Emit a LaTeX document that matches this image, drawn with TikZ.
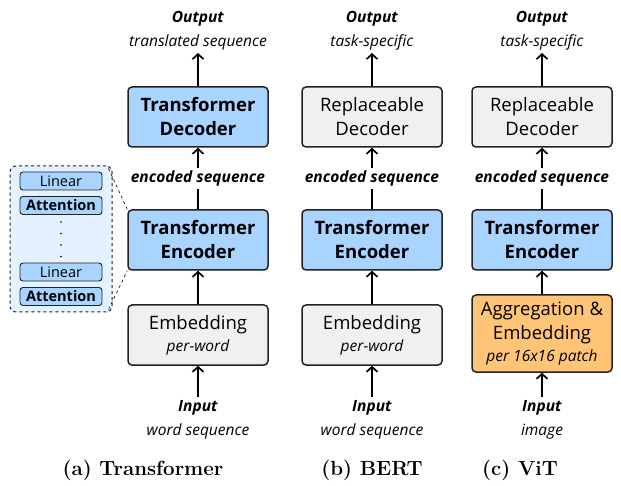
\documentclass[tikz,border=0pt]{standalone}
\usepackage{fontspec}
\usetikzlibrary{arrows.meta}
\newfontfamily\notosans{Open Sans}
\definecolor{encblue}{HTML}{A8D4FF}
\definecolor{stackblue}{HTML}{E4F1FF}
\definecolor{embgray}{HTML}{F0F0F0}
\definecolor{aggorange}{HTML}{FFC475}
\definecolor{edge}{HTML}{222222}

\begin{document}
\begin{tikzpicture}[x=1pt, y=1pt,
    block/.style={draw=edge, line width=1.5pt, rounded corners=4pt, minimum width=140pt, minimum height=60pt, align=center, inner sep=2pt, font=\notosans\fontsize{18.5}{24}\selectfont},
    blueblock/.style={block, fill=encblue, font=\notosans\bfseries\fontsize{18.5}{24}\selectfont},
    grayblock/.style={block, fill=embgray},
    lbl/.style={align=center, inner sep=3pt, font=\notosans\fontsize{15.5}{24}\selectfont},
    midlbl/.style={fill=white, inner sep=3pt, font=\notosans\bfseries\itshape\fontsize{15.5}{18}\selectfont},
    layer/.style={draw=edge, line width=0.9pt, fill=encblue, rounded corners=3pt, minimum width=82pt, minimum height=18pt, inner sep=0pt, font=\notosans\fontsize{14.5}{15}\selectfont},
    flow/.style={-{Straight Barb[length=5pt,width=11pt]}, line width=1.7pt},
    caption/.style={font=\bfseries\fontsize{20.5}{24}\selectfont}]
    \useasboundingbox (0,0) rectangle (621,485);

    % (a) Transformer
    \node[blueblock] (decA) at (198,368) {Transformer\\Decoder};
    \node[blueblock] (encA) at (198,245) {Transformer\\Encoder};
    \node[grayblock] (embA) at (198,150) {Embedding\\[-2pt]{\fontsize{15.5}{18}\selectfont\itshape per-word}};
    \node[lbl, anchor=south] (outA) at (198,432) {\textbf{\textit{Output}}\\\textit{translated sequence}};
    \node[lbl, anchor=north] (inA) at (198,88) {\textbf{\textit{Input}}\\\textit{word sequence}};
    \draw[flow] (inA) -- (embA);
    \draw[flow] (embA) -- (encA);
    \draw[flow] (encA) -- node[midlbl] {encoded sequence} (decA);
    \draw[flow] (decA) -- (outA);

    % Encoder-Stapel links
    \node[draw=edge, dashed, line width=1pt, fill=stackblue, rounded corners=6pt, minimum width=102pt, minimum height=146pt] (stack) at (61,246) {};
    \node[layer] (lin1) at (61,304) {Linear};
    \node[layer, font=\notosans\bfseries\fontsize{14.5}{15}\selectfont] (att1) at (61,279.5) {Attention};
    \node[layer] (lin2) at (61,213) {Linear};
    \node[layer, font=\notosans\bfseries\fontsize{14.5}{15}\selectfont] (att2) at (61,188.5) {Attention};
    \foreach \y in {263,251.5,240,228.5}
        \fill (61,\y) circle (0.9pt);
    \draw[dashed, line width=0.6pt] ([xshift=-4pt,yshift=-3pt]stack.north east) -- (encA.north west);
    \draw[dashed, line width=0.6pt] ([xshift=-4pt,yshift=3pt]stack.south east) -- (encA.south west);

    % (b) BERT
    \node[grayblock] (decB) at (372,368) {Replaceable\\Decoder};
    \node[blueblock] (encB) at (372,245) {Transformer\\Encoder};
    \node[grayblock] (embB) at (372,150) {Embedding\\[-2pt]{\fontsize{15.5}{18}\selectfont\itshape per-word}};
    \node[lbl, anchor=south] (outB) at (372,432) {\textbf{\textit{Output}}\\\textit{task-specific}};
    \node[lbl, anchor=north] (inB) at (372,88) {\textbf{\textit{Input}}\\\textit{word sequence}};
    \draw[flow] (inB) -- (embB);
    \draw[flow] (embB) -- (encB);
    \draw[flow] (encB) -- node[midlbl] {encoded sequence} (decB);
    \draw[flow] (decB) -- (outB);

    % (c) ViT
    \node[grayblock] (decC) at (542,368) {Replaceable\\Decoder};
    \node[blueblock] (encC) at (542,245) {Transformer\\Encoder};
    \node[block, fill=aggorange, minimum height=77pt] (aggC) at (542,151.5) {Aggregation \&\\Embedding\\[-2pt]{\fontsize{15.5}{18}\selectfont\itshape per 16x16 patch}};
    \node[lbl, anchor=south] (outC) at (542,432) {\textbf{\textit{Output}}\\\textit{task-specific}};
    \node[lbl, anchor=north] (inC) at (542,88) {\textbf{\textit{Input}}\\\textit{image}};
    \draw[flow] (inC) -- (aggC);
    \draw[flow] (aggC) -- (encC);
    \draw[flow] (encC) -- node[midlbl] {encoded sequence} (decC);
    \draw[flow] (decC) -- (outC);

    % Unterschriften
    \node[caption] (capA) at (143,15) {(a) Transformer};
    \node[caption] (capB) at (372,15) {(b) BERT};
    \node[caption] (capC) at (520,15) {(c) ViT};
\end{tikzpicture}
\end{document}
